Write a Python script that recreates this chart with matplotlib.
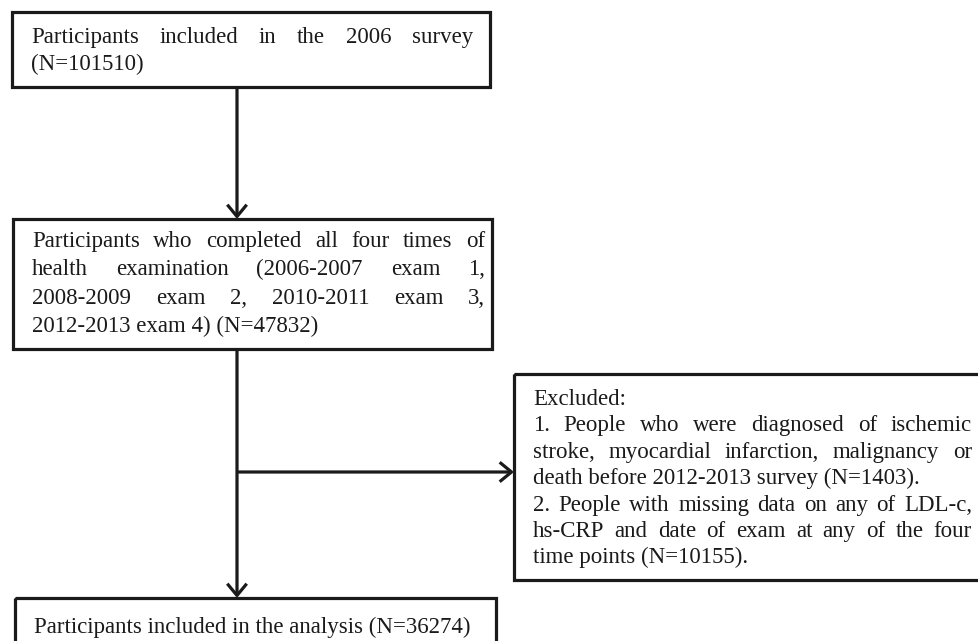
import matplotlib
matplotlib.use('Agg')
import matplotlib.pyplot as plt
from matplotlib.patches import Rectangle, FancyArrowPatch

# Box texts, one entry per printed line; True = justified line
box1_lines = [('Participants included in the 2006 survey', True),
              ('(N=101510)', False)]
box2_lines = [('Participants who completed all four times of', True),
              ('health examination (2006-2007 exam 1,', True),
              ('2008-2009 exam 2, 2010-2011 exam 3,', True),
              ('2012-2013 exam 4) (N=47832)', False)]
box3_lines = [('Excluded:', False),
              ('1.  People who were diagnosed of ischemic', True),
              ('stroke, myocardial infarction, malignancy or', True),
              ('death before 2012-2013 survey (N=1403).', False),
              ('2.  People with missing data on any of LDL-c,', True),
              ('hs-CRP and date of exam at any of the four', True),
              ('time points (N=10155).', False)]
box4_text = 'Participants included in the analysis (N=36274)'

FONT = dict(family='Liberation Serif', fontsize=16.5, color='#1a1a1a')
LW = 2.3


def draw_box(ax, x0, y0, x1, y1):
    ax.add_patch(Rectangle((x0, y0), x1 - x0, y1 - y0, fill=False,
                           edgecolor='#1a1a1a', lw=LW, joinstyle='miter'))


def draw_lines(ax, renderer, lines, left, right, y_first, step):
    for i, (line, justify) in enumerate(lines):
        y = y_first + i * step
        if not justify:
            ax.text(left, y, line, ha='left', va='baseline', **FONT)
            continue
        words = line.split()
        texts = [ax.text(0, y, w, ha='left', va='baseline', **FONT) for w in words]
        widths = [t.get_window_extent(renderer).width for t in texts]
        gap = (right - left - sum(widths)) / (len(words) - 1)
        x = left
        for t, w in zip(texts, widths):
            t.set_x(x)
            x += w + gap


def arrow(ax, p0, p1):
    ax.add_patch(FancyArrowPatch(p0, p1, arrowstyle='->,head_length=0.85,head_width=0.7',
                                 mutation_scale=10, lw=LW, color='#1a1a1a',
                                 shrinkA=0, shrinkB=0, capstyle='butt'))


def main():
    fig = plt.figure(figsize=(9.79, 6.41), dpi=100)
    ax = fig.add_axes([0, 0, 1, 1])
    ax.set_xlim(0, 979)
    ax.set_ylim(641, 0)
    ax.axis('off')
    renderer = fig.canvas.get_renderer()

    draw_box(ax, 12, 12, 490, 87)
    draw_box(ax, 13, 219, 492, 349)
    draw_box(ax, 514, 374, 990, 580)
    draw_box(ax, 15, 598, 496, 660)

    draw_lines(ax, renderer, box1_lines, 31, 473, 43, 27.5)
    draw_lines(ax, renderer, box2_lines, 32, 485, 247, 28.3)
    draw_lines(ax, renderer, box3_lines, 533, 972, 405, 26.4)
    ax.text(252.5, 633, box4_text, ha='center', va='baseline', **FONT)

    arrow(ax, (237, 87), (237, 219))
    arrow(ax, (237, 349), (237, 598))
    arrow(ax, (237, 472), (514, 472))

    fig.savefig('out.png', dpi=100)


if __name__ == '__main__':
    main()
